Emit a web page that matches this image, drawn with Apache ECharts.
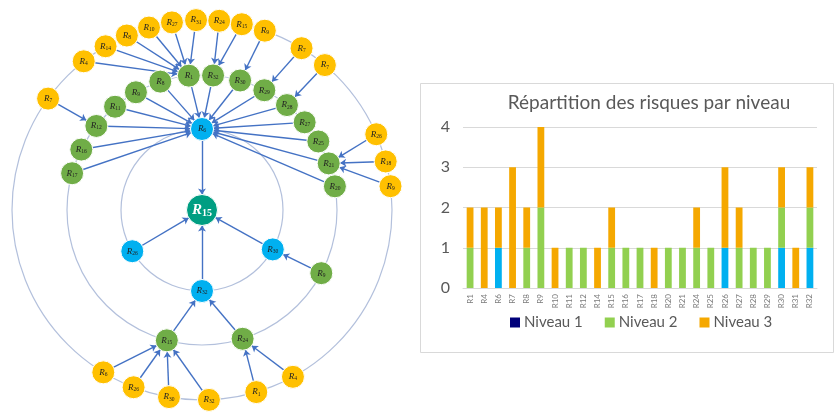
<!DOCTYPE html>
<html>
<head>
<meta charset="utf-8">
<title>Risques</title>
<script src="https://cdn.jsdelivr.net/npm/echarts@6/dist/echarts.min.js"></script>
<style>
  html, body { margin: 0; padding: 0; background: #ffffff; }
  #chart { width: 835px; height: 412px; }
</style>
</head>
<body>
<div id="chart"></div>
<script>
// ---- Risk network: nodes on concentric rings (level 0 = centre, 3 = outer ring)
const nodeKeys = [
  'root',
  'b6', 'b26', 'b30', 'b32',
  'g17', 'g16', 'g12', 'g11', 'g9', 'g8', 'g1', 'g32', 'g30', 'g29', 'g28', 'g27', 'g25', 'g21', 'g20', 'g9b', 'g15', 'g24',
  'y7a', 'y4a', 'y14', 'y8', 'y10', 'y27', 'y31', 'y24', 'y15', 'y9a', 'y7b', 'y7c', 'y26a', 'y18', 'y9b',
  'y6', 'y26b', 'y30', 'y32', 'y1', 'y4b'
];
const nodeSubs = [
  '15',
  '6', '26', '30', '32',
  '17', '16', '12', '11', '9', '8', '1', '32', '30', '29', '28', '27', '25', '21', '20', '9', '15', '24',
  '7', '4', '14', '8', '10', '27', '31', '24', '15', '9', '7', '7', '26', '18', '9',
  '6', '26', '30', '32', '1', '4'
];
const nodeLevels = [
  0,
  1, 1, 1, 1,
  2, 2, 2, 2, 2, 2, 2, 2, 2, 2, 2, 2, 2, 2, 2, 2, 2, 2,
  3, 3, 3, 3, 3, 3, 3, 3, 3, 3, 3, 3, 3, 3, 3,
  3, 3, 3, 3, 3, 3
];
// angle in degrees, counter-clockwise from the right
const nodeAngles = [
  0,
  90, 210.6, 330.9, 270,
  164.2, 153.4, 141.5, 130.1, 119.3, 108, 95.6, 85.3, 73.6, 62.5, 51, 40.5, 30.5, 20.2, 10.1, 332.1, 254.9, 287.5,
  144.1, 128.5, 120.5, 113.3, 106.2, 99.1, 91.8, 84.8, 77.9, 70.7, 58.4, 49.7, 23.5, 14.8, 7.2,
  238.7, 248.9, 260, 272.1, 286.6, 298.6
];
const linkSources = [
  'y7a', 'y4a', 'y14', 'y8', 'y10', 'y27', 'y31', 'y24', 'y15', 'y9a', 'y7b', 'y7c', 'y26a', 'y18', 'y9b',
  'g17', 'g16', 'g12', 'g11', 'g9', 'g8', 'g1', 'g32', 'g30', 'g29', 'g28', 'g27', 'g25', 'g21', 'g20',
  'b6', 'b26', 'b32', 'b30',
  'g9b', 'g15', 'g24',
  'y6', 'y26b', 'y30', 'y32', 'y1', 'y4b'
];
const linkTargets = [
  'g12', 'g1', 'g1', 'g1', 'g1', 'g1', 'g1', 'g32', 'g32', 'g30', 'g29', 'g28', 'g21', 'g21', 'g21',
  'b6', 'b6', 'b6', 'b6', 'b6', 'b6', 'b6', 'b6', 'b6', 'b6', 'b6', 'b6', 'b6', 'b6', 'b6',
  'root', 'root', 'root', 'root',
  'b30', 'b32', 'b32',
  'g15', 'g15', 'g15', 'g15', 'g24', 'g24'
];

// ---- Stacked bar chart
const categories = ['R1', 'R4', 'R6', 'R7', 'R8', 'R9', 'R10', 'R11', 'R12', 'R14', 'R15', 'R16', 'R17',
  'R18', 'R20', 'R21', 'R24', 'R25', 'R26', 'R27', 'R28', 'R29', 'R30', 'R31', 'R32'];
const niveau1 = [0, 0, 1, 0, 0, 0, 0, 0, 0, 0, 0, 0, 0, 0, 0, 0, 0, 0, 1, 0, 0, 0, 1, 0, 1];
const niveau2 = [1, 0, 0, 0, 1, 2, 0, 1, 1, 0, 1, 1, 1, 0, 1, 1, 1, 1, 0, 1, 1, 1, 1, 0, 1];
const niveau3 = [1, 2, 1, 3, 1, 2, 1, 0, 0, 1, 1, 0, 0, 1, 0, 0, 1, 0, 2, 1, 0, 0, 1, 1, 1];
const yTicks = [0, 1, 2, 3, 4];
const seriesNames = ['Niveau 1', 'Niveau 2', 'Niveau 3'];

// ---- styling
const ringRadius = [0, 81, 135, 190];
const levelColors = ['#009e82', '#00b0f0', '#70ad47', '#ffc000'];
const ringColor = '#b3c0dc';
const edgeColor = '#4472c4';
const barColors = ['#00b0f0', '#92d050', '#f5a800'];
const legendColors = ['#00007a', '#92d050', '#f5a800'];
const textGray = '#595959';
const center = [202, 210];

const graphNodes = nodeKeys.map((key, i) => {
  const lvl = nodeLevels[i];
  const isRoot = lvl === 0;
  return {
    id: key,
    name: key,
    value: [ringRadius[lvl], nodeAngles[i]],
    symbolSize: isRoot ? 31 : 23,
    itemStyle: { color: levelColors[lvl], borderColor: '#ffffff', borderWidth: 1 },
    label: {
      show: true,
      position: 'inside',
      formatter: (isRoot ? '{R|R}{S|' : '{r|R}{s|') + nodeSubs[i] + '}'
    }
  };
});
const idx = {};
nodeKeys.forEach((k, i) => { idx[k] = i; });
const graphLinks = linkSources.map((s, i) => ({ source: idx[s], target: idx[linkTargets[i]] }));

function ringPolar(r) {
  return { center: center, radius: r };
}
function ringAngleAxis(i) {
  return {
    polarIndex: i, type: 'value', min: 0, max: 360, startAngle: 0, clockwise: false,
    axisLine: { show: true, lineStyle: { color: ringColor, width: 1.2 } },
    axisTick: { show: false }, axisLabel: { show: false }, splitLine: { show: false }
  };
}
function ringRadiusAxis(i, max) {
  return { polarIndex: i, type: 'value', min: 0, max: max, show: false, splitLine: { show: false } };
}

const chart = echarts.init(document.getElementById('chart'), null, { renderer: 'canvas' });
chart.setOption({
  animation: false,
  backgroundColor: '#ffffff',
  graphic: [{
    type: 'rect', z: -10,
    shape: { x: 420.5, y: 83.5, width: 413, height: 269 },
    style: { fill: '#ffffff', stroke: '#d9d9d9', lineWidth: 1 }
  }],
  title: {
    text: 'Répartition des risques par niveau',
    left: 644, top: 88, textAlign: 'center',
    textStyle: { fontFamily: 'Lato', fontSize: 19, fontWeight: 'normal', color: textGray }
  },
  polar: [ringPolar(190), ringPolar(135), ringPolar(81)],
  angleAxis: [ringAngleAxis(0), ringAngleAxis(1), ringAngleAxis(2)],
  radiusAxis: [ringRadiusAxis(0, 190), ringRadiusAxis(1, 135), ringRadiusAxis(2, 81)],
  grid: { left: 463, right: 18, top: 127, bottom: 124 },
  legend: {
    data: seriesNames.map((n, i) => ({ name: n, itemStyle: { color: legendColors[i] } })),
    left: 505, top: 310, itemWidth: 10, itemHeight: 10, itemGap: 22,
    icon: 'rect',
    textStyle: { fontFamily: 'Lato', fontSize: 15, color: textGray, padding: [0, 0, 0, -1] }
  },
  xAxis: {
    type: 'category', data: categories,
    axisLine: { lineStyle: { color: '#d9d9d9' } },
    axisTick: { show: false },
    axisLabel: { rotate: 90, fontFamily: 'Lato', fontSize: 8, color: '#7a7a7a', margin: 6, interval: 0 }
  },
  yAxis: {
    type: 'value', min: 0, max: 4, interval: 1,
    axisLabel: {
      fontFamily: 'Lato', fontSize: 16, color: textGray, margin: 13,
      formatter: v => String(yTicks[v])
    },
    splitLine: { lineStyle: { color: '#d9d9d9', width: 1.2 } },
    axisLine: { show: false }, axisTick: { show: false }
  },
  series: [
    {
      type: 'graph',
      coordinateSystem: 'polar',
      polarIndex: 0,
      data: graphNodes,
      links: graphLinks,
      edgeSymbol: ['none', 'arrow'],
      edgeSymbolSize: [0, 6],
      lineStyle: { color: edgeColor, width: 1.4, opacity: 1, curveness: 0 },
      label: {
        color: '#1a1a1a',
        rich: {
          r: { fontFamily: 'Liberation Serif', fontStyle: 'italic', fontSize: 9, color: '#222' },
          s: { fontFamily: 'Liberation Serif', fontSize: 5.5, color: '#222', verticalAlign: 'bottom', padding: [4, 0, 0, 0] },
          R: { fontFamily: 'Liberation Serif', fontStyle: 'italic', fontWeight: 'bold', fontSize: 15, color: '#ffffff' },
          S: { fontFamily: 'Liberation Serif', fontWeight: 'bold', fontSize: 10, color: '#ffffff', verticalAlign: 'bottom', padding: [6, 0, 0, 0] }
        }
      },
      emphasis: { disabled: true },
      z: 5
    },
    ...seriesNames.map((name, i) => ({
      name: name,
      type: 'bar',
      stack: 'total',
      barWidth: '48%',
      data: [niveau1, niveau2, niveau3][i],
      itemStyle: { color: barColors[i] },
      emphasis: { disabled: true }
    }))
  ]
});
</script>
</body>
</html>
